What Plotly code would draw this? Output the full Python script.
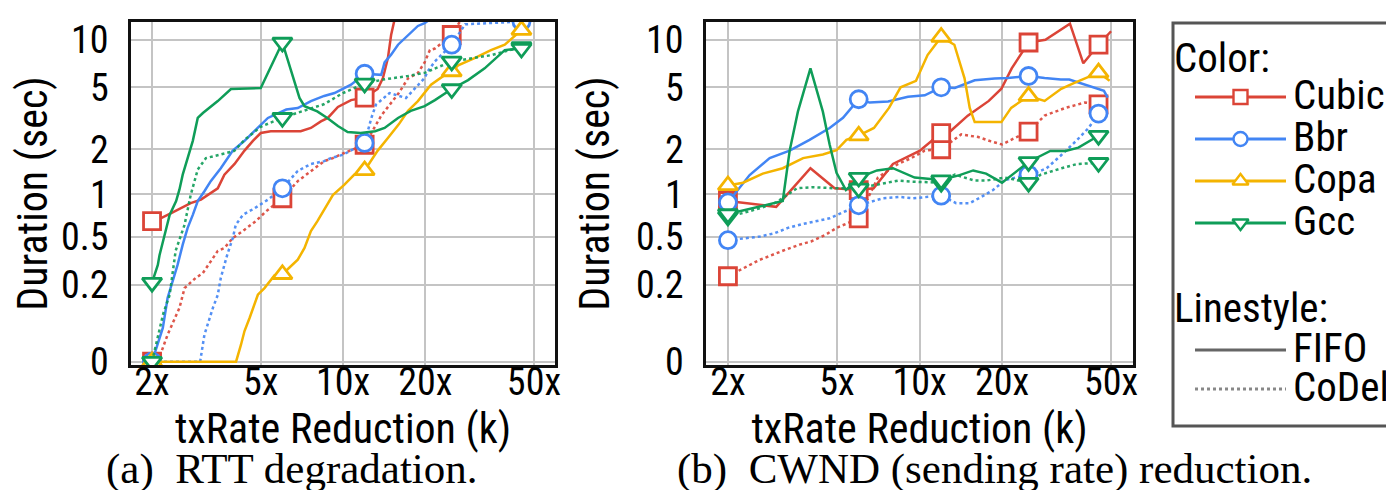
import numpy as np
import plotly.graph_objects as go

# ---------------- tick labels / categories ----------------
K_TICKS = [2, 5, 10, 20, 50]
K_TICK_TEXT = ["2x", "5x", "10x", "20x", "50x"]
DUR_TICKS = [0, 0.2, 0.5, 1, 2, 5, 10]
DUR_TICK_TEXT = ["0", "0.2", "0.5", "1", "2", "5", "10"]
MARK_K = [2, 6, 12, 25, 45]          # reductions at which markers are drawn

CCAS = ["Cubic", "Bbr", "Copa", "Gcc"]
QUEUES = ["FIFO", "CoDel"]

# ---------------- (a) RTT degradation: duration (sec) vs reduction k ----------------
rtt_cubic_fifo_k = [2, 2.15, 2.38, 2.55, 2.77, 3.02, 3.28, 3.48, 3.68, 4.01, 4.36, 4.68, 5.0, 5.44, 6.3, 7.0, 7.63, 8.3, 8.8, 9.58, 10.7, 12, 13.4, 14.0, 14.6, 15.0, 15.4, 15.8]
rtt_cubic_fifo_s = [0.65, 0.68, 0.75, 0.80, 0.87, 0.92, 1.02, 1.10, 1.36, 1.60, 1.96, 2.27, 2.55, 2.62, 2.62, 2.62, 2.75, 3.03, 3.19, 3.75, 4.15, 4.3, 4.88, 5.73, 7.66, 10.7, 13.1, 14.0]
rtt_cubic_codel_k = [2, 2.1, 2.28, 2.38, 2.52, 2.63, 2.89, 3.07, 3.28, 3.48, 3.68, 3.95, 4.36, 4.80, 5.22, 6, 6.83, 7.63, 8.53, 9.18, 10.1, 12, 13.8, 16, 17.3, 18.8, 19.9, 20.8, 21.7, 25, 27.5]
rtt_cubic_codel_s = [0, 0.0, 0.047, 0.074, 0.116, 0.187, 0.232, 0.256, 0.323, 0.389, 0.41, 0.488, 0.563, 0.65, 0.76, 0.94, 1.23, 1.44, 1.67, 1.75, 1.89, 2.14, 3.3, 4.6, 5.7, 6.17, 7.2, 8.6, 8.8, 10.7, 14.0]
rtt_bbr_fifo_k = [2, 2.19, 2.28, 2.38, 2.48, 2.59, 2.70, 2.82, 2.94, 3.11, 3.28, 3.57, 3.95, 4.36, 4.88, 5.31, 6.2, 6.83, 7.63, 8.53, 9.31, 10.7, 12, 13.8, 14.2, 15.0, 15.9, 17.3, 18.8, 19.9, 21.5]
rtt_bbr_fifo_s = [0, 0.062, 0.149, 0.218, 0.30, 0.435, 0.58, 0.72, 0.90, 1.05, 1.23, 1.50, 1.96, 2.27, 2.75, 3.19, 3.61, 3.69, 4.09, 4.41, 4.6, 5.2, 6.1, 6.0, 7.2, 8.05, 9.3, 10.7, 12.2, 12.7, 14.0]
rtt_bbr_codel_k = [2, 3.0, 3.11, 3.19, 3.34, 3.48, 3.57, 3.68, 3.78, 3.95, 4.05, 4.30, 4.74, 5.31, 6, 6.83, 7.63, 8.53, 9.03, 10, 12, 12.7, 13.2, 14.8, 16.6, 17.0, 19.9, 20.4, 21.7, 23.6, 25, 28, 45]
rtt_bbr_codel_s = [0, 0, 0.047, 0.07, 0.116, 0.16, 0.232, 0.30, 0.37, 0.488, 0.61, 0.72, 0.80, 0.92, 1.10, 1.44, 1.60, 1.67, 1.75, 1.84, 2.2, 3.19, 3.88, 4.6, 4.36, 4.28, 5.73, 6.3, 7.3, 8.4, 9.3, 12.5, 13.0]
rtt_copa_fifo_k = [2, 4.06, 4.23, 4.36, 4.55, 4.74, 4.88, 5.16, 5.62, 6, 6.83, 7.23, 7.63, 8.05, 8.76, 9.18, 10.1, 11.0, 12, 13.4, 14.6, 16.0, 17.3, 18.8, 21.0, 23.6, 25, 26.4, 30.3, 34.8, 39.1, 43.7, 45]
rtt_copa_fifo_s = [0, 0, 0.027, 0.055, 0.087, 0.126, 0.161, 0.187, 0.245, 0.25, 0.331, 0.41, 0.55, 0.647, 0.85, 0.99, 1.16, 1.36, 1.45, 1.96, 2.37, 2.9, 3.54, 4.09, 5.2, 6.0, 6.3, 6.9, 7.66, 8.6, 9.3, 11.0, 11.5]
rtt_gcc_fifo_k = [2, 2.1, 2.13, 2.19, 2.25, 2.32, 2.45, 2.52, 2.59, 2.74, 2.82, 2.94, 3.07, 3.48, 3.89, 5.0, 6, 6.93, 7.23, 8.05, 8.76, 9.58, 10.4, 11.6, 12.3, 13.1, 14.2, 15.9, 17.7, 19.9, 21.7, 25, 28.7, 33.0, 39.1, 45]
rtt_gcc_fifo_s = [0.21, 0.30, 0.36, 0.46, 0.58, 0.72, 0.90, 1.08, 1.36, 1.96, 2.27, 3.19, 3.43, 4.09, 4.88, 4.95, 9.6, 4.28, 3.79, 3.51, 3.19, 2.83, 2.59, 2.55, 2.57, 2.62, 2.75, 3.19, 3.54, 3.80, 4.15, 4.88, 5.56, 6.6, 8.6, 8.8]
rtt_gcc_codel_k = [2, 2.1, 2.2, 2.32, 2.44, 2.63, 2.77, 2.94, 3.15, 3.53, 4.0, 4.36, 5.0, 6, 8.5, 10, 12, 14, 17.3, 20, 25, 30, 35, 45]
rtt_gcc_codel_s = [0.0, 0.04, 0.10, 0.16, 0.39, 0.61, 0.99, 1.47, 1.75, 1.84, 1.95, 2.3, 2.8, 3.2, 3.9, 4.6, 5.3, 5.6, 5.9, 6.2, 7.3, 7.66, 8.0, 9.0]

# ---------------- (b) CWND (sending rate) reduction ----------------
cwnd_cubic_fifo_k = [2, 3.0, 4.0, 4.9, 6, 6.8, 8.0, 10, 12, 12.9, 15, 16.4, 17.9, 19.9, 21.7, 25, 28.8, 35.4, 39.6, 45, 50]
cwnd_cubic_fifo_s = [0.9, 0.82, 1.5, 1.10, 1.07, 1.10, 1.6, 1.95, 2.55, 2.6, 3.3, 3.7, 4.1, 4.9, 6.6, 9.6, 10, 12.6, 7.1, 9.3, 11.3]
cwnd_cubic_codel_k = [2, 2.27, 2.61, 3.17, 3.65, 4.02, 4.57, 4.98, 6, 6.5, 7.05, 8.35, 9.33, 10.45, 12, 14.2, 16.4, 18.25, 20, 22.3, 25, 28.6, 34.1, 40.1, 45]
cwnd_cubic_codel_s = [0.24, 0.28, 0.33, 0.39, 0.435, 0.46, 0.52, 0.58, 0.68, 0.95, 1.3, 1.6, 1.75, 1.96, 2.0, 2.5, 2.4, 2.25, 2.15, 2.37, 2.6, 3.3, 3.7, 4.0, 3.9]
cwnd_bbr_fifo_k = [2, 2.40, 2.84, 3.36, 3.97, 4.70, 5.26, 6, 6.58, 7.68, 9.08, 10.45, 12, 13.45, 15.9, 18.8, 21.0, 25, 28.6, 32.8, 35.2, 41.4, 44, 47.1, 48.6]
cwnd_bbr_fifo_s = [0.88, 1.35, 1.75, 1.96, 2.3, 2.75, 3.2, 4.2, 4.0, 4.07, 4.36, 4.45, 5.0, 4.96, 5.55, 5.7, 5.73, 5.9, 5.73, 5.6, 5.6, 5.1, 4.95, 4.75, 4.3]
cwnd_bbr_codel_k = [2, 2.33, 2.61, 2.96, 3.31, 3.76, 4.2, 4.70, 5.26, 6, 7.35, 8.47, 9.47, 10.9, 12, 13.6, 15.25, 16.8, 18.55, 20.5, 25, 27.7, 29.1, 33.0, 37.6, 41.4, 45]
cwnd_bbr_codel_s = [0.47, 0.49, 0.50, 0.53, 0.58, 0.62, 0.65, 0.68, 0.75, 0.84, 0.94, 0.96, 0.94, 0.96, 0.98, 0.87, 0.87, 0.96, 1.07, 1.25, 1.36, 1.44, 1.5, 1.84, 2.3, 2.75, 3.4]
cwnd_copa_fifo_k = [2, 2.27, 2.68, 3.17, 3.76, 4.44, 4.98, 5.41, 6, 6.82, 7.74, 8.53, 9.71, 10.7, 12, 13.4, 14.6, 15.25, 15.9, 19.9, 21.6, 25, 28.6, 32.9, 36.4, 45, 49.4]
cwnd_copa_fifo_s = [1.15, 1.2, 1.38, 1.5, 1.75, 1.85, 1.97, 2.3, 2.45, 2.75, 3.7, 5.0, 5.5, 8.0, 10.4, 9.3, 5.7, 3.7, 3.0, 3.0, 3.7, 4.4, 4.1, 4.9, 5.3, 6.2, 5.5]
cwnd_gcc_fifo_k = [2, 2.99, 3.17, 3.36, 3.6, 4.0, 4.44, 4.70, 4.98, 5.39, 6, 7.0, 8.0, 9.6, 12, 14, 15.7, 17.5, 20, 25, 30, 34.1, 38, 45]
cwnd_gcc_fifo_s = [0.73, 0.87, 0.9, 1.96, 3.5, 6.6, 3.5, 2.15, 1.4, 1.07, 1.3, 1.45, 1.5, 1.3, 1.25, 1.35, 1.45, 1.38, 1.2, 1.65, 1.95, 1.95, 2.05, 2.45]
cwnd_gcc_codel_k = [2, 2.2, 2.61, 3.0, 3.57, 4.06, 4.92, 6, 8.35, 9.33, 12, 13.45, 15.9, 17.5, 20.5, 25, 27.7, 30.7, 33, 37.6, 45]
cwnd_gcc_codel_s = [0.7, 0.73, 0.8, 0.88, 1.1, 1.12, 1.1, 1.1, 1.24, 1.22, 1.2, 1.36, 1.24, 1.24, 1.3, 1.2, 1.36, 1.45, 1.5, 1.6, 1.63]

# ---------------- styles ----------------
COLORS = {"Cubic": "#DB4437", "Bbr": "#4285F4", "Copa": "#F4B400", "Gcc": "#0F9D58"}
SYMBOLS = {"Cubic": "square", "Bbr": "circle", "Copa": "triangle-up", "Gcc": "triangle-down"}
DASHES = {"FIFO": "solid", "CoDel": "dot"}
SANS = "Liberation Sans Narrow, Arial Narrow, Roboto Condensed, DejaVu Sans Condensed, sans-serif"
SERIF = "Liberation Serif, Times New Roman, serif"
GRID = "#c4c4c4"
W, H = 1394, 490
TICK_SIZE, TITLE_SIZE, LEG_SIZE = 38, 42, 41


def dur_axis(v):
    """Symlog-like duration scale of the original figure: log10(t + 0.1)."""
    return np.log10(np.asarray(v, dtype=float) + 0.1)


panels = {
    ("x", "y"): [
        ("Cubic", "CoDel", rtt_cubic_codel_k, rtt_cubic_codel_s),
        ("Cubic", "FIFO", rtt_cubic_fifo_k, rtt_cubic_fifo_s),
        ("Bbr", "CoDel", rtt_bbr_codel_k, rtt_bbr_codel_s),
        ("Bbr", "FIFO", rtt_bbr_fifo_k, rtt_bbr_fifo_s),
        ("Copa", "FIFO", rtt_copa_fifo_k, rtt_copa_fifo_s),
        ("Gcc", "CoDel", rtt_gcc_codel_k, rtt_gcc_codel_s),
        ("Gcc", "FIFO", rtt_gcc_fifo_k, rtt_gcc_fifo_s),
    ],
    ("x2", "y2"): [
        ("Cubic", "CoDel", cwnd_cubic_codel_k, cwnd_cubic_codel_s),
        ("Cubic", "FIFO", cwnd_cubic_fifo_k, cwnd_cubic_fifo_s),
        ("Bbr", "CoDel", cwnd_bbr_codel_k, cwnd_bbr_codel_s),
        ("Bbr", "FIFO", cwnd_bbr_fifo_k, cwnd_bbr_fifo_s),
        ("Copa", "FIFO", cwnd_copa_fifo_k, cwnd_copa_fifo_s),
        ("Gcc", "CoDel", cwnd_gcc_codel_k, cwnd_gcc_codel_s),
        ("Gcc", "FIFO", cwnd_gcc_fifo_k, cwnd_gcc_fifo_s),
    ],
}

fig = go.Figure()

for (xa, ya), series in panels.items():
    for cca, queue, ks, secs in series:
        color = COLORS[cca]
        yv = dur_axis(secs)
        fig.add_trace(go.Scatter(
            x=ks, y=yv, mode="lines", xaxis=xa, yaxis=ya, showlegend=False,
            line=dict(color=color, width=2.5, dash=DASHES[queue]),
            opacity=0.9 if queue == "CoDel" else 1.0, hoverinfo="skip"))
        idx = [i for i, kk in enumerate(ks) if any(abs(kk - m) < 1e-9 for m in MARK_K)]
        fig.add_trace(go.Scatter(
            x=[ks[i] for i in idx], y=[yv[i] for i in idx], mode="markers",
            xaxis=xa, yaxis=ya, showlegend=False, hoverinfo="skip",
            marker=dict(symbol=SYMBOLS[cca], size=17, color="white",
                        line=dict(color=color, width=2.8))))

# ---------------- axes ----------------
y_range = [-1.021, 1.1145]
x_axis_common = dict(
    type="log", tickvals=K_TICKS, ticktext=K_TICK_TEXT, showgrid=True, gridcolor=GRID,
    gridwidth=2, zeroline=False, showline=True, linecolor="#111", linewidth=2.5, mirror=True,
    ticks="", ticklabelstandoff=-18, tickfont=dict(family=SANS, size=TICK_SIZE, color="black"),
    automargin=False,
    title=dict(text="txRate Reduction (k)", font=dict(family=SANS, size=TITLE_SIZE, color="black"), standoff=0),
)
y_axis_common = dict(
    range=y_range, tickvals=list(dur_axis(DUR_TICKS)), ticktext=DUR_TICK_TEXT, showgrid=True,
    gridcolor=GRID, gridwidth=2, zeroline=False, showline=True, linecolor="#111", linewidth=2.5,
    mirror=True, ticks="", ticklabelstandoff=12, tickfont=dict(family=SANS, size=TICK_SIZE, color="black"),
    automargin=False,
    title=dict(text="Duration (sec)", font=dict(family=SANS, size=TITLE_SIZE, color="black"), standoff=14),
)

LEG_X0, LEG_X1, LEG_Y0, LEG_Y1 = 1165, 1392, 15, 418

fig.update_layout(
    xaxis=dict(domain=[123 / W, 547 / W], range=[0.224, 1.776], anchor="y", **x_axis_common),
    yaxis=dict(domain=[1 - 357 / H, 1 - 14 / H], anchor="x", **y_axis_common),
    xaxis2=dict(domain=[698 / W, 1125 / W], range=[0.221, 1.779], anchor="y2", **x_axis_common),
    yaxis2=dict(domain=[1 - 357 / H, 1 - 14 / H], anchor="x2", **y_axis_common),
    # pixel-coordinate axes covering only the legend strip, used to lay out the legend
    xaxis3=dict(domain=[1150 / W, 1], range=[1150, W], visible=False, anchor="y3", fixedrange=True),
    yaxis3=dict(domain=[0, 1], range=[H, 0], visible=False, anchor="x3", fixedrange=True),
)

# ---------------- legend (Color / Linestyle) ----------------
KEY_X0, KEY_X1, TXT_X, HEAD_X = 1187, 1278, 1283, 1164
ROW_STEP = 42
color_head_y, color_row0 = 50, 89
style_head_y, style_row0 = 300, 342

fig.add_shape(type="rect", xref="x3", yref="y3", x0=LEG_X0, x1=LEG_X1, y0=LEG_Y0, y1=LEG_Y1,
              line=dict(color="#555", width=3), fillcolor="rgba(0,0,0,0)", layer="below")

annotations = []


def legend_text(x, y, text):
    annotations.append(dict(x=x, y=y, xref="x3", yref="y3", text=text, showarrow=False,
                            xanchor="left", yanchor="middle",
                            font=dict(family=SANS, size=LEG_SIZE, color="black")))


legend_text(HEAD_X, color_head_y, "Color:")
for i, cca in enumerate(CCAS):
    yy = color_row0 + i * ROW_STEP
    fig.add_trace(go.Scatter(x=[KEY_X0, KEY_X1], y=[yy, yy], xaxis="x3", yaxis="y3", mode="lines",
                             line=dict(color=COLORS[cca], width=3), showlegend=False, hoverinfo="skip"))
    fig.add_trace(go.Scatter(x=[(KEY_X0 + KEY_X1) / 2], y=[yy], xaxis="x3", yaxis="y3", mode="markers",
                             marker=dict(symbol=SYMBOLS[cca], size=14, color="white",
                                         line=dict(color=COLORS[cca], width=2.4)),
                             showlegend=False, hoverinfo="skip"))
    legend_text(TXT_X, yy - 2, cca)

legend_text(HEAD_X, style_head_y, "Linestyle:")
for i, q in enumerate(QUEUES):
    yy = style_row0 + i * (ROW_STEP - 3)
    fig.add_trace(go.Scatter(x=[KEY_X0, KEY_X1], y=[yy, yy], xaxis="x3", yaxis="y3", mode="lines",
                             line=dict(color="#666" if q == "FIFO" else "#888", width=3, dash=DASHES[q]),
                             showlegend=False, hoverinfo="skip"))
    legend_text(TXT_X, yy - 2, q)

# ---------------- sub-figure captions ----------------
annotations.append(dict(x=96 / W, y=1 - 461 / H, xref="paper", yref="paper", showarrow=False,
                        xanchor="left", yanchor="middle", text="(a)  RTT degradation.",
                        font=dict(family=SERIF, size=43, color="black")))
annotations.append(dict(x=1306 / W, y=1 - 461 / H, xref="paper", yref="paper", showarrow=False,
                        xanchor="right", yanchor="middle", text="(b)  CWND (sending rate) reduction.",
                        font=dict(family=SERIF, size=43, color="black")))

fig.update_layout(
    template="none", width=W, height=H, margin=dict(l=0, r=0, t=0, b=0),
    paper_bgcolor="white", plot_bgcolor="rgba(0,0,0,0)", showlegend=False,
    annotations=annotations,
)

fig.write_html("out.html")
